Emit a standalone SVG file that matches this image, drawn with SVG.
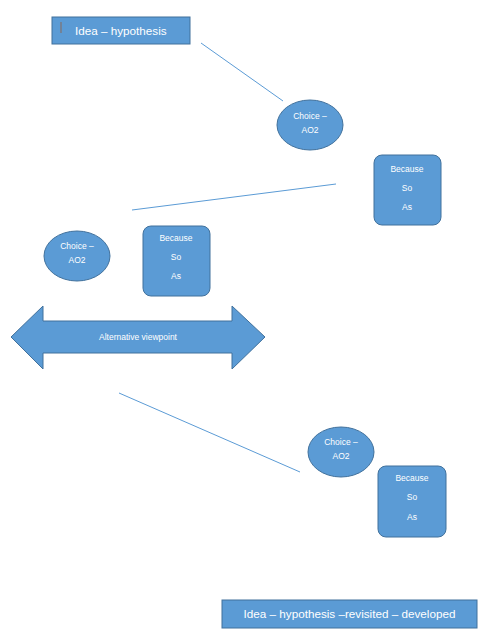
<svg xmlns="http://www.w3.org/2000/svg" width="494" height="640" viewBox="0 0 494 640">
<style>
.shape{fill:#5b9bd5;stroke:#41719c;stroke-width:1}
.conn{stroke:#5b9bd5;stroke-width:1;fill:none}
text{font-family:"Liberation Sans","DejaVu Sans",sans-serif;fill:#ffffff}
.s{font-size:8.5px;text-anchor:middle}
.l{font-size:11.7px}
</style>
<rect width="494" height="640" fill="#ffffff"/>
<g id="connectors">
<line class="conn" x1="201" y1="43" x2="283" y2="101"/>
<line class="conn" x1="336" y1="184" x2="132" y2="210"/>
<line class="conn" x1="119" y1="393" x2="300" y2="472"/>
</g>
<g id="idea">
<rect class="shape" x="52" y="17" width="138" height="27"/>
<rect x="60.5" y="22" width="1" height="11" fill="#8a6a5a"/>
<text class="l" x="75" y="35">Idea – hypothesis</text>
</g>
<g id="choice1">
<ellipse class="shape" cx="310" cy="125" rx="33" ry="25"/>
<text class="s" x="310" y="119">Choice –</text>
<text class="s" x="310" y="133">AO2</text>
</g>
<g id="because1">
<rect class="shape" x="374" y="155" width="67" height="70" rx="8"/>
<text class="s" x="407" y="172">Because</text>
<text class="s" x="407" y="191">So</text>
<text class="s" x="407" y="210">As</text>
</g>
<g id="choice2">
<ellipse class="shape" cx="77" cy="256" rx="33" ry="25"/>
<text class="s" x="77" y="249">Choice –</text>
<text class="s" x="77" y="263">AO2</text>
</g>
<g id="because2">
<rect class="shape" x="143" y="226" width="67" height="70" rx="8"/>
<text class="s" x="176" y="241">Because</text>
<text class="s" x="176" y="260">So</text>
<text class="s" x="176" y="279">As</text>
</g>
<g id="alternative">
<polygon class="shape" points="11,337 43,306 43,321 232,321 232,306 265,337 232,369 232,353 43,353 43,369"/>
<text class="s" x="138" y="340">Alternative viewpoint</text>
</g>
<g id="choice3">
<ellipse class="shape" cx="341" cy="452" rx="33" ry="25"/>
<text class="s" x="341" y="445">Choice –</text>
<text class="s" x="341" y="459">AO2</text>
</g>
<g id="because3">
<rect class="shape" x="378" y="466" width="68" height="71" rx="8"/>
<text class="s" x="412" y="481">Because</text>
<text class="s" x="412" y="500">So</text>
<text class="s" x="412" y="520">As</text>
</g>
<g id="idea-revisited">
<rect class="shape" x="222" y="600" width="255" height="28"/>
<text class="l" x="349.5" y="618" text-anchor="middle">Idea – hypothesis –revisited – developed</text>
</g>
</svg>
